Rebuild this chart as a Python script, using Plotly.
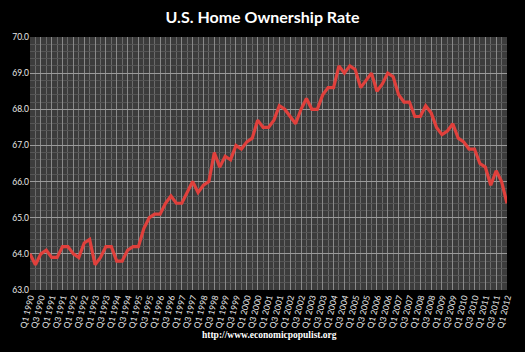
import plotly.graph_objects as go

years = list(range(1990, 2013))
quarters = [f"Q{q} {y}" for y in years for q in (1, 2, 3, 4)][:89]

rate = [
    64.0, 63.7, 64.0, 64.1,
    63.9, 63.9, 64.2, 64.2,
    64.0, 63.9, 64.3, 64.4,
    63.7, 63.9, 64.2, 64.2,
    63.8, 63.8, 64.1, 64.2,
    64.2, 64.7, 65.0, 65.1,
    65.1, 65.4, 65.6, 65.4,
    65.4, 65.7, 66.0, 65.7,
    65.9, 66.0, 66.8, 66.4,
    66.7, 66.6, 67.0, 66.9,
    67.1, 67.2, 67.7, 67.5,
    67.5, 67.7, 68.1, 68.0,
    67.8, 67.6, 68.0, 68.3,
    68.0, 68.0, 68.4, 68.6,
    68.6, 69.2, 69.0, 69.2,
    69.1, 68.6, 68.8, 69.0,
    68.5, 68.7, 69.0, 68.9,
    68.4, 68.2, 68.2, 67.8,
    67.8, 68.1, 67.9, 67.5,
    67.3, 67.4, 67.6, 67.2,
    67.1, 66.9, 66.9, 66.5,
    66.4, 65.9, 66.3, 66.0,
    65.4,
]

idx = list(range(len(rate)))
tick_idx = idx[::2]
tick_text = [quarters[i] for i in tick_idx]

fig = go.Figure()
fig.add_trace(go.Scatter(
    x=idx, y=rate, mode="lines",
    line=dict(color="#e0403c", width=3.2),
    hoverinfo="skip",
))

fig.update_layout(
    width=525, height=352,
    margin=dict(l=29, r=15, t=37, b=62),
    paper_bgcolor="#000000",
    plot_bgcolor="#3c3c3c",
    showlegend=False,
    title=dict(
        text="<b>U.S. Home Ownership Rate</b>",
        x=0.5, xanchor="center", y=1 - 17 / 352, yanchor="middle",
        font=dict(family="Lato", size=16, color="#ffffff"),
    ),
    xaxis=dict(
        range=[0, len(rate) - 1],
        tickmode="array", tickvals=tick_idx, ticktext=tick_text,
        tickangle=-76,
        tickfont=dict(family="Lato", size=8.5, color="#e8e8e8"),
        showgrid=True, gridcolor="#8a8a8a", gridwidth=1,
        minor=dict(tickmode="linear", tick0=1, dtick=2, showgrid=True,
                   gridcolor="#6a6a6a", gridwidth=1),
        zeroline=False, showline=False, ticks="",
        fixedrange=True,
    ),
    yaxis=dict(
        range=[63, 70],
        tickmode="linear", tick0=63, dtick=1, tickformat=".1f",
        tickfont=dict(family="Lato", size=8.5, color="#e8e8e8"),
        showgrid=True, gridcolor="#9a9a9a", gridwidth=1,
        minor=dict(tickmode="linear", tick0=63, dtick=0.2, showgrid=True,
                   gridcolor="#555555", gridwidth=1),
        zeroline=False, showline=False, ticks="",
        fixedrange=True,
    ),
)

fig.add_annotation(
    text="<b>http://www.economicpopulist.org</b>",
    xref="paper", yref="paper", x=0.503, y=-45 / 253,
    xanchor="center", yanchor="middle", showarrow=False,
    font=dict(family="Liberation Serif", size=9.5, color="#ffffff"),
)

fig.write_html("out.html")
